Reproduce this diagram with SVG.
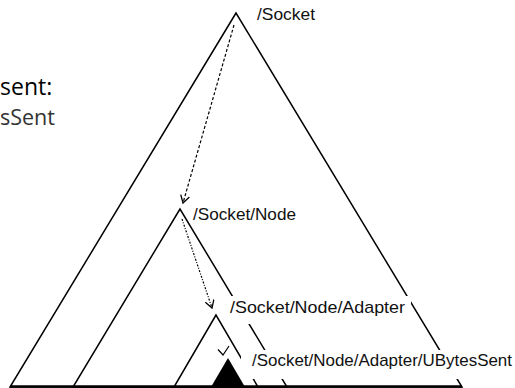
<svg xmlns="http://www.w3.org/2000/svg" width="515" height="388" viewBox="0 0 515 388">
  <style>
    .tri { fill: none; stroke: #000; stroke-width: 1.5; stroke-linejoin: miter; }
    .box { fill: #fff; stroke: none; }
    .lbl { font-family: "Liberation Sans", Arial, sans-serif; font-size: 17px; fill: #111; }
    .side { font-family: "Open Sans", "Noto Sans", sans-serif; }
    .arr { fill: none; stroke: #000; stroke-width: 1.2; }
  </style>
  <defs>
    <marker id="vee" markerUnits="userSpaceOnUse" markerWidth="12" markerHeight="12" refX="8" refY="5" orient="auto">
      <path d="M0.5,0.5 L8,5 L0.5,9.5" fill="none" stroke="#000" stroke-width="1.3"/>
    </marker>
  </defs>
  <rect width="515" height="388" fill="#fff"/>

  <g id="caption">
    <text class="side" x="0" y="95" font-size="23" fill="#000">sent:</text>
    <text class="side" x="0" y="125" font-size="21.5" fill="#333">sSent</text>
  </g>

  <g id="node-socket">
    <polygon class="tri" points="236,13 10,387 462,387"/>
    <text class="lbl" x="257" y="20" textLength="58" lengthAdjust="spacingAndGlyphs">/Socket</text>
  </g>

  <g id="node-socket-node">
    <polygon class="tri" points="180,209 73,387 287,387"/>
    <text class="lbl" x="193" y="220" textLength="103" lengthAdjust="spacingAndGlyphs">/Socket/Node</text>
  </g>

  <g id="node-adapter">
    <polygon class="tri" points="216,315 174,387 258,387"/>
    <rect class="box" x="228" y="296" width="183" height="28"/>
    <text class="lbl" x="230" y="313" textLength="175" lengthAdjust="spacingAndGlyphs">/Socket/Node/Adapter</text>
  </g>

  <g id="node-ubytessent">
    <polygon points="228,358 211,387 245,387" fill="#000"/>
    <rect class="box" x="241" y="350" width="274" height="29"/>
    <text class="lbl" x="252" y="366" textLength="260" lengthAdjust="spacingAndGlyphs">/Socket/Node/Adapter/UBytesSent</text>
  </g>

  <line x1="10" y1="386.5" x2="462" y2="386.5" stroke="#000" stroke-width="2.5"/>

  <g id="connectors">
    <path class="arr" d="M234,25 L183,203" stroke-dasharray="3,2" marker-end="url(#vee)"/>
    <path class="arr" d="M182,219 L212,308" stroke-dasharray="2,1.5,1,1.5" marker-end="url(#vee)"/>
    <path class="arr" d="M218,349.5 L223,355 L229,346" stroke-width="1.4"/>
  </g>
</svg>
